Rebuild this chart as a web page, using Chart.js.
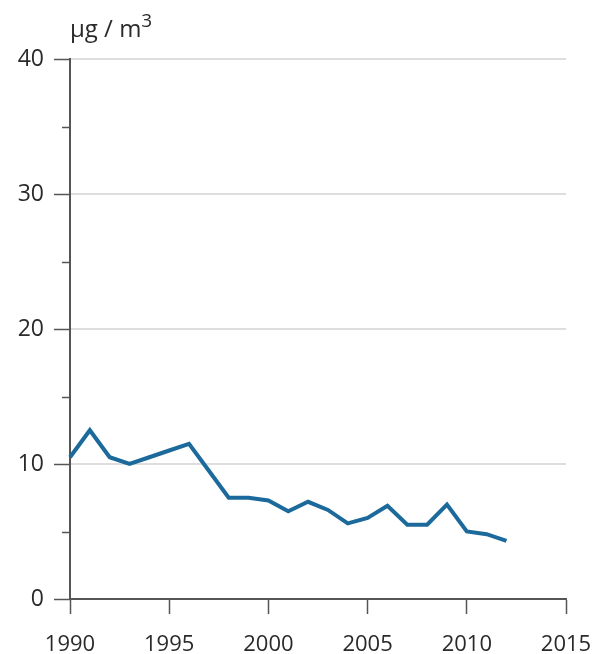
<!DOCTYPE html>
<html>
<head>
<meta charset="utf-8">
<script src="https://cdn.jsdelivr.net/npm/chart.js@4/dist/chart.umd.min.js"></script>
<style>
  html, body { margin:0; padding:0; background:#fff; }
  #wrap { position:relative; width:596px; height:654px; }
  #unit { position:absolute; left:70px; top:16px; font-family:'Open Sans', sans-serif; font-size:24px; color:#2a2a2a; line-height:1; }
  #unit sup { font-size:19px; vertical-align:0; position:relative; top:-10px; }
</style>
</head>
<body>
<div id="wrap">
  <canvas id="chart" width="596" height="654"></canvas>
  <div id="unit">µg / m<sup>3</sup></div>
</div>
<script>
// ── PM concentration, µg/m³ ──
const years = [1990,1991,1992,1993,1994,1995,1996,1997,1998,1999,2000,2001,2002,2003,2004,2005,2006,2007,2008,2009,2010,2011,2012];
const values = [10.5,12.5,10.5,10.0,10.5,11.0,11.5,9.5,7.5,7.5,7.3,6.5,7.2,6.6,5.6,6.0,6.9,5.5,5.5,7.0,5.0,4.8,4.3];
const yTicks = [0,10,20,30,40];
const yMinorTicks = [5,15,25,35];
const xTicks = [1990,1995,2000,2005,2010,2015];

const FONT = "'Open Sans', sans-serif";
const TEXT = '#2a2a2a';
const AXIS = '#555';

// y-axis tick marks: long for labelled values, short for the minor ones
const yTickMarks = {
  id: 'yTickMarks',
  afterDraw(chart) {
    const { ctx, scales: { y }, chartArea } = chart;
    ctx.save();
    ctx.strokeStyle = AXIS;
    ctx.lineWidth = 1.5;
    const x0 = chartArea.left;
    yTicks.forEach(v => {
      const py = Math.round(y.getPixelForValue(v)) + 0.5;
      ctx.beginPath(); ctx.moveTo(x0 - 16, py); ctx.lineTo(x0, py); ctx.stroke();
    });
    yMinorTicks.forEach(v => {
      const py = Math.round(y.getPixelForValue(v)) + 0.5;
      ctx.beginPath(); ctx.moveTo(x0 - 8, py); ctx.lineTo(x0, py); ctx.stroke();
    });
    ctx.restore();
  }
};

new Chart(document.getElementById('chart'), {
  type: 'line',
  data: {
    datasets: [{
      data: years.map((yr, i) => ({ x: yr, y: values[i] })),
      borderColor: '#1c6a9c',
      borderWidth: 4,
      pointRadius: 0,
      tension: 0,
      borderJoinStyle: 'miter',
      clip: false
    }]
  },
  options: {
    responsive: false,
    animation: false,
    layout: { padding: { top: 59, right: 30, left: 0, bottom: 0 } },
    plugins: { legend: { display: false }, tooltip: { enabled: false } },
    scales: {
      x: {
        type: 'linear',
        min: 1990, max: 2015,
        afterBuildTicks: s => { s.ticks = xTicks.map(v => ({ value: v })); },
        afterFit: s => { s.height = 55; s.paddingLeft = 0; s.paddingRight = 0; },
        border: { color: AXIS, width: 2 },
        grid: { drawOnChartArea: false, drawTicks: true, tickLength: 15, tickColor: AXIS, tickWidth: 1.5 },
        ticks: { color: TEXT, font: { family: FONT, size: 22 }, padding: 18, maxRotation: 0, callback: v => String(v) }
      },
      y: {
        min: 0, max: 40,
        afterBuildTicks: s => { s.ticks = yTicks.map(v => ({ value: v })); },
        afterFit: s => { s.width = 70; s.paddingTop = 0; s.paddingBottom = 0; },
        border: { color: AXIS, width: 2 },
        grid: { color: ctx => ctx.tick && ctx.tick.value === 0 ? 'rgba(0,0,0,0)' : '#dedede', lineWidth: 2, drawTicks: false },
        ticks: { color: TEXT, font: { family: FONT, size: 23 }, padding: 26 }
      }
    }
  },
  plugins: [yTickMarks]
});
</script>
</body>
</html>
